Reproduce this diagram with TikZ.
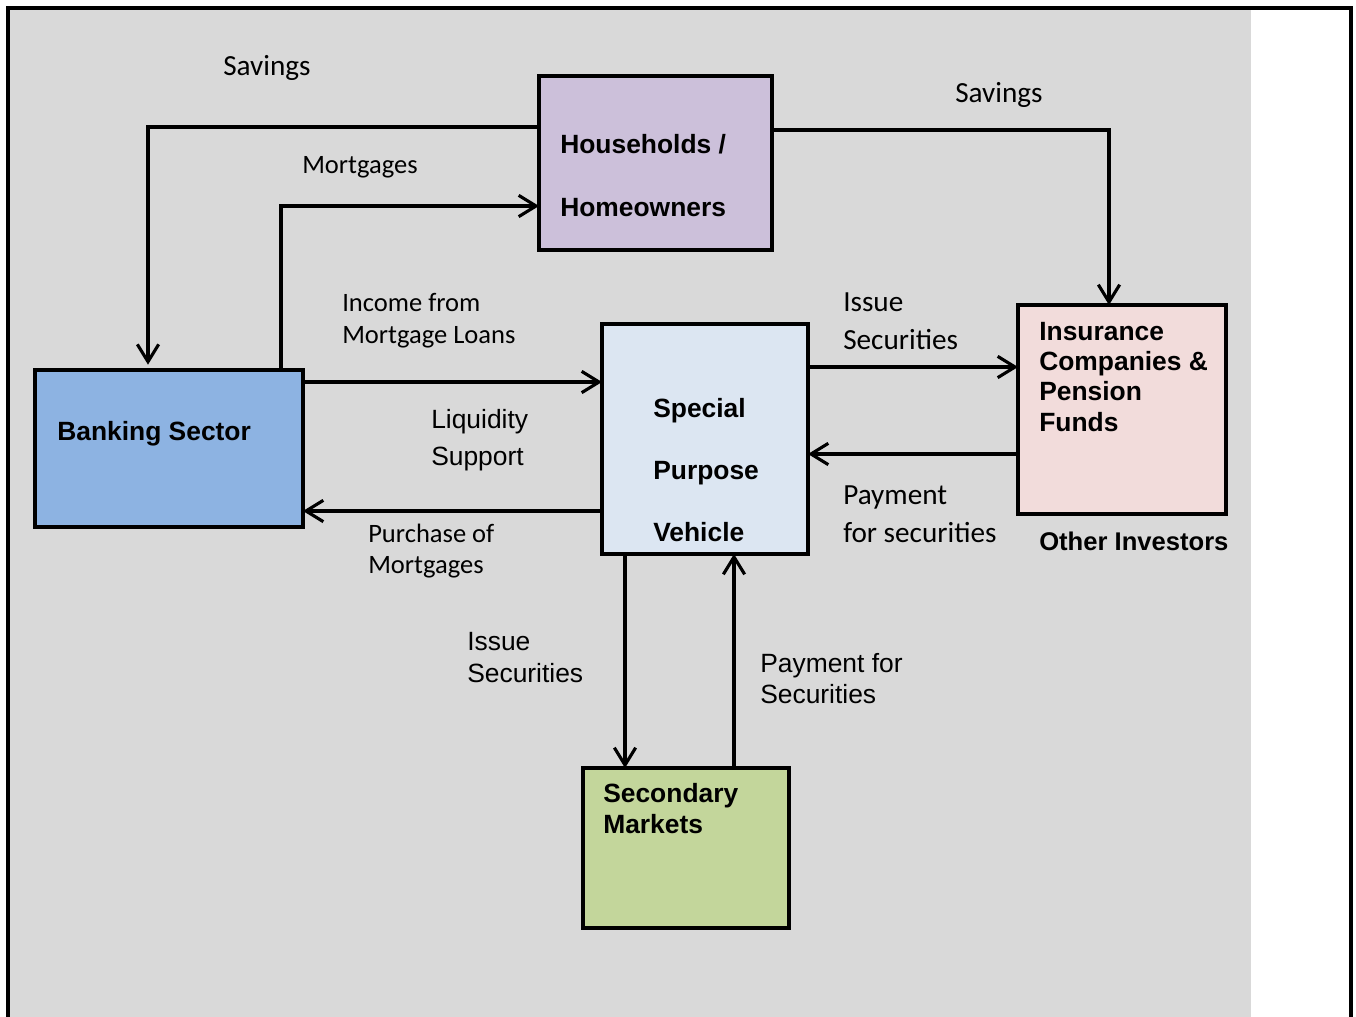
\documentclass[tikz,border=0pt]{standalone}
\usepackage{fontspec}
\setmainfont{Liberation Sans}
\newfontfamily\calibri{Carlito}
\usetikzlibrary{arrows.meta,calc}
\definecolor{bggray}{HTML}{D9D9D9}
\definecolor{hhfill}{HTML}{CCC0DA}
\definecolor{bankfill}{HTML}{8DB3E2}
\definecolor{spvfill}{HTML}{DCE6F2}
\definecolor{insfill}{HTML}{F2DCDB}
\definecolor{secfill}{HTML}{C3D69B}
\newcommand\mlines[1]{\begin{tabular}[t]{@{}l@{}}#1\end{tabular}}
\begin{document}
\begin{tikzpicture}[x=0.75pt,y=-0.75pt,
  box/.style={draw=black,line width=2.3pt,anchor=north west,inner sep=0pt,outer sep=0pt},
  arr/.style={line width=2.35pt,-{Straight Barb[length=13pt,width=16pt]}},
  txt/.style={anchor=base west,inner sep=0pt},
  bt/.style={txt,font=\bfseries\fontsize{19.8}{#1}\selectfont},
  bt/.default=24pt,
  at/.style={txt,font=\fontsize{19.8}{#1}\selectfont},
  at/.default=24pt,
  cl/.style={txt,font=\calibri\fontsize{21.9}{#1}\selectfont},
  cl/.default=28.5pt,
  cs/.style={txt,font=\calibri\fontsize{19.9}{#1}\selectfont},
  cs/.default=24pt
]
\useasboundingbox (0,0) rectangle (1356,1017);
\fill[bggray] (10,10) rectangle (1251,1017);
\draw[line width=2.4pt] (8,1017) -- (8,8) -- (1351,8) -- (1351,1017);

% boxes
\node[box,fill=hhfill,minimum width=174.75pt,minimum height=130.5pt] (hh) at (539,76) {};
\node[box,fill=bankfill,minimum width=201pt,minimum height=117.75pt] (bank) at (35,370) {};
\node[box,fill=spvfill,minimum width=154.5pt,minimum height=172.5pt] (spv) at (602,324) {};
\node[box,fill=insfill,minimum width=156pt,minimum height=156.75pt] (ins) at (1018,305) {};
\node[box,fill=secfill,minimum width=154.5pt,minimum height=120pt] (sec) at (583,768) {};

% box texts
\node[bt=47.25pt] (hhtxt) at (560,153) {\mlines{Households /\\Homeowners}};
\node[bt] (banktxt) at (57,440) {Banking Sector};
\node[bt=46.5pt] (spvtxt) at (653,417) {\mlines{Special\\Purpose\\Vehicle}};
\node[bt=22.75pt] (instxt) at (1039,340) {\mlines{Insurance\\Companies \&\\Pension\\Funds}};
\node[txt,font=\bfseries\fontsize{19.2}{24}\selectfont] (other) at (1039,550) {Other Investors};
\node[bt=23.25pt] (sectxt) at (603,802) {\mlines{Secondary\\Markets}};

% connectors
\draw[arr,shorten >=4pt] ($(hh.north west)+(0,51)$) -| ($(bank.north west)+(113,0)$);
\draw[arr] ($(bank.north west)+(246,0)$) |- ($(hh.north west)+(0,130)$);
\draw[arr] ($(hh.north east)+(0,54)$) -| ($(ins.north west)+(91,0)$);
\draw[arr] ($(bank.north east)+(0,12)$) -- ($(spv.north west)+(0,58)$);
\draw[arr] ($(spv.south west)+(0,-43)$) -- ($(bank.south east)+(0,-16)$);
\draw[arr] ($(spv.north east)+(0,43)$) -- ($(ins.north west)+(0,62)$);
\draw[arr] ($(ins.north west)+(0,149)$) -- ($(spv.north east)+(0,130)$);
\draw[arr] ($(spv.south west)+(23,0)$) -- ($(sec.north west)+(42,0)$);
\draw[arr] ($(sec.north west)+(151,0)$) -- ($(spv.south west)+(132,0)$);

% labels
\node[cl] (lsav1) at (223,75) {Savings};
\node[cs] (lmort) at (302,173) {Mortgages};
\node[cl] (lsav2) at (955,102) {Savings};
\node[cs=24pt] (linc) at (342,311) {\mlines{Income from\\Mortgage Loans}};
\node[at=27.75pt] (lliq) at (431,428) {\mlines{Liquidity\\Support}};
\node[cs=23.25pt] (lpur) at (368,542) {\mlines{Purchase of\\Mortgages}};
\node[cl=28.5pt] (liss1) at (843,311) {\mlines{Issue\\Securities}};
\node[cl=28.5pt] (lpay1) at (843,504) {\mlines{Payment\\for securities}};
\node[at=24pt] (liss2) at (467,650) {\mlines{Issue\\Securities}};
\node[at=23.25pt] (lpay2) at (760,672) {\mlines{Payment for\\Securities}};
\end{tikzpicture}
\end{document}
